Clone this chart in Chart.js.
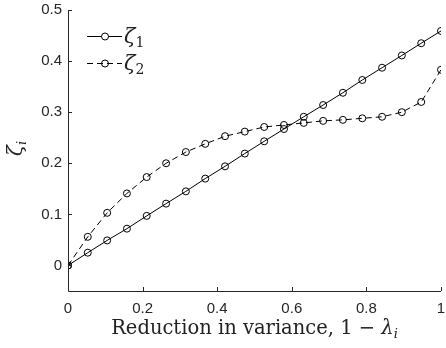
<!DOCTYPE html>
<html>
<head>
<meta charset="utf-8">
<script src="https://cdn.jsdelivr.net/npm/chart.js@4"></script>
<style>
  html, body { margin: 0; padding: 0; background: #fff; }
  #wrap { width: 446px; height: 348px; }
</style>
</head>
<body>
<div id="wrap"><canvas id="c" width="446" height="348"></canvas></div>
<script>
const reduction = [0, 0.053, 0.105, 0.158, 0.211, 0.263, 0.316, 0.368, 0.421, 0.474,
                   0.526, 0.579, 0.632, 0.684, 0.737, 0.789, 0.842, 0.895, 0.947, 1];
const zeta1 = [0, 0.025, 0.049, 0.072, 0.097, 0.121, 0.145, 0.170, 0.194, 0.219,
               0.243, 0.267, 0.291, 0.314, 0.338, 0.363, 0.387, 0.411, 0.435, 0.459];
const zeta2 = [0, 0.056, 0.103, 0.141, 0.173, 0.200, 0.222, 0.238, 0.253, 0.262,
               0.271, 0.275, 0.279, 0.283, 0.285, 0.288, 0.291, 0.300, 0.320, 0.383];
const xTicks = [0, 0.2, 0.4, 0.6, 0.8, 1];
const xTickLabels = ['0', '0.2', '0.4', '0.6', '0.8', '1'];
const yTicks = [0, 0.1, 0.2, 0.3, 0.4, 0.5];
const yTickLabels = ['0', '0.1', '0.2', '0.3', '0.4', '0.5'];
const seriesNames = ['\u03b6', '\u03b6'];
const seriesSubs = ['1', '2'];

const AXIS = '#262626';
const SERIF = '"DejaVu Serif", "Liberation Serif", serif';
const SANS = '"Liberation Sans", Arial, sans-serif';
const DASH = [6, 4];

function pts(ys) { return ys.map((y, i) => ({ x: reduction[i], y })); }

// inward tick marks, axis lines, titles and legend
const decor = {
  id: 'decor',
  afterDraw(chart) {
    const { ctx, chartArea: a, scales: { x, y } } = chart;
    ctx.save();
    ctx.strokeStyle = AXIS;
    ctx.lineWidth = 1;
    ctx.beginPath();
    ctx.moveTo(a.left + 0.5, a.top);
    ctx.lineTo(a.left + 0.5, a.bottom + 0.5);
    ctx.lineTo(a.right, a.bottom + 0.5);
    xTicks.forEach(v => {
      const px = Math.round(x.getPixelForValue(v)) + 0.5;
      ctx.moveTo(px, a.bottom);
      ctx.lineTo(px, a.bottom - 4);
    });
    yTicks.forEach(v => {
      const py = Math.round(y.getPixelForValue(v)) + 0.5;
      ctx.moveTo(a.left, py);
      ctx.lineTo(a.left + 4, py);
    });
    ctx.stroke();

    // x title
    ctx.fillStyle = '#222';
    ctx.textBaseline = 'alphabetic';
    const main = 'Reduction in variance, 1 \u2212 ';
    ctx.font = '19.5px ' + SERIF;
    const w1 = ctx.measureText(main).width;
    ctx.font = 'italic 19.5px ' + SERIF;
    const w2 = ctx.measureText('\u03bb').width;
    ctx.font = 'italic 13px ' + SERIF;
    const w3 = ctx.measureText('i').width;
    let sx = (a.left + a.right) / 2 - (w1 + w2 + w3) / 2;
    const base = 334;
    ctx.font = '19.5px ' + SERIF;
    ctx.fillText(main, sx, base);
    ctx.font = 'italic 19.5px ' + SERIF;
    ctx.fillText('\u03bb', sx + w1, base);
    ctx.font = 'italic 13px ' + SERIF;
    ctx.fillText('i', sx + w1 + w2, base + 4);

    // y title
    ctx.save();
    ctx.translate(22, 148);
    ctx.rotate(-Math.PI / 2);
    ctx.font = 'italic 20px ' + SERIF;
    const z = ctx.measureText('\u03b6').width;
    ctx.fillText('\u03b6', -(z + 5) / 2, 0);
    ctx.font = 'italic 13px ' + SERIF;
    ctx.fillText('i', -(z + 5) / 2 + z, 4);
    ctx.restore();

    // legend
    const rows = [36, 63];
    chart.data.datasets.forEach((ds, k) => {
      const ly = rows[k] + 0.5;
      ctx.strokeStyle = '#000';
      ctx.setLineDash(ds.borderDash || []);
      ctx.beginPath();
      ctx.moveTo(87, ly);
      ctx.lineTo(122, ly);
      ctx.stroke();
      ctx.setLineDash([]);
      ctx.beginPath();
      ctx.arc(105, ly, 3.5, 0, Math.PI * 2);
      ctx.fillStyle = '#fff';
      if (!ds.borderDash) ctx.fill();
      ctx.stroke();
      ctx.fillStyle = '#222';
      ctx.font = 'italic 21px ' + SERIF;
      ctx.fillText(seriesNames[k], 124, ly + 6);
      const zw = ctx.measureText(seriesNames[k]).width;
      ctx.font = '14px ' + SERIF;
      ctx.fillText(seriesSubs[k], 124 + zw, ly + 10);
    });
    ctx.restore();
  }
};

new Chart(document.getElementById('c'), {
  type: 'line',
  data: {
    datasets: [
      {
        label: '\u03b6\u2081',
        data: pts(zeta1),
        borderColor: '#000',
        borderWidth: 1,
        pointRadius: 3.5,
        pointBorderWidth: 1,
        pointBorderColor: '#000',
        pointBackgroundColor: 'rgba(0,0,0,0)',
        tension: 0,
      },
      {
        label: '\u03b6\u2082',
        data: pts(zeta2),
        borderColor: '#000',
        borderWidth: 1,
        borderDash: DASH,
        pointRadius: 3.5,
        pointBorderWidth: 1,
        pointBorderColor: '#000',
        pointBackgroundColor: 'rgba(0,0,0,0)',
        tension: 0,
      },
    ],
  },
  options: {
    responsive: false,
    animation: false,
    events: [],
    layout: { padding: { top: 10, right: 2, left: 0, bottom: 0 } },
    plugins: { legend: { display: false }, tooltip: { enabled: false } },
    scales: {
      x: {
        type: 'linear',
        min: 0,
        max: 1,
        border: { display: false },
        grid: { display: false, drawTicks: false },
        afterBuildTicks: s => { s.ticks = xTicks.map(v => ({ value: v })); },
        afterFit: s => { s.height = 57; s.paddingLeft = 0; s.paddingRight = 0; },
        ticks: {
          padding: 9,
          color: '#262626',
          font: { family: SANS, size: 15 },
          maxRotation: 0,
          callback: (v, i) => xTickLabels[i],
        },
      },
      y: {
        type: 'linear',
        min: -0.05,
        max: 0.5,
        border: { display: false },
        grid: { display: false, drawTicks: false },
        afterBuildTicks: s => { s.ticks = yTicks.map(v => ({ value: v })); },
        afterFit: s => { s.width = 68; s.paddingTop = 0; s.paddingBottom = 0; },
        ticks: {
          padding: 6,
          color: '#262626',
          font: { family: SANS, size: 15 },
          callback: (v, i) => yTickLabels[i],
        },
      },
    },
  },
  plugins: [decor],
});
</script>
</body>
</html>
